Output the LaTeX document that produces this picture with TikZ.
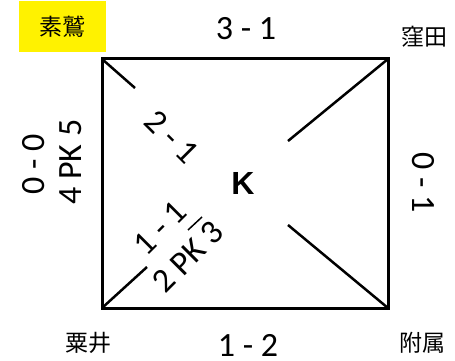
\documentclass[tikz,border=0pt]{standalone}
\usepackage{fontspec}
\setmainfont{Carlito}
\newfontfamily\cjk{Noto Sans CJK JP}
\newfontfamily\boldsans{Liberation Sans}
\tikzset{
  score/.style={inner sep=0pt, font=\fontsize{34}{34}\selectfont},
  team/.style={inner sep=0pt, font=\cjk\fontsize{23}{23}\selectfont},
  stub/.style={line width=2.5pt},
}
\begin{document}
\begin{tikzpicture}[x=1pt,y=-1pt]
\useasboundingbox (0,0) rectangle (455,361);
\coordinate (tl) at (102,59);
\coordinate (tr) at (388,59);
\coordinate (br) at (388,308);
\coordinate (bl) at (102,308);
\draw[line width=3pt] (tl) -- (tr) -- (br) -- (bl) -- cycle;
% diagonal stubs
\coordinate (tlend) at (135,88);
\coordinate (trend) at (288,141);
\coordinate (brend) at (288,225);
\coordinate (blend) at (147,267);
\draw[stub] (tl) -- (tlend);
\draw[stub] (tr) -- (trend);
\draw[stub] (br) -- (brend);
\draw[stub] (bl) -- (blend);
% teams
\node[team, fill=yellow, minimum width=87pt, minimum height=51pt] (sosagi) at (62.5,26.5) {素鷲};
\node[team] (kubota) at (424,37) {窪田};
\node[team] (awai) at (88,343) {粟井};
\node[team] (fuzoku) at (422,343) {附属};
% scores
\node[score] (top) at (246,29) {3 - 1};
\node[score] (bottom) at (248,345) {1 - 2};
\node[score, rotate=90] (left) at (34,164) {0 - 0};
\node[score, rotate=90] (leftpk) at (71,162) {4 PK 5};
\node[score, rotate=-90] (right) at (423,183) {0 - 1};
\node[score, rotate=-45] (diagA) at (172,137) {2 - 1};
\node[score, rotate=45] (diagB) at (160,228) {1 - 1};
\node[score, rotate=45] (diagBpk) at (188,257) {2 PK 3};
\coordinate (barA) at (188,230);
\coordinate (barB) at (202,217);
\draw[line width=1.5pt] (barA) -- (barB);
\node[inner sep=0pt, font=\boldsans\bfseries\fontsize{32}{32}\selectfont] (k) at (243,183) {K};
\end{tikzpicture}
\end{document}
